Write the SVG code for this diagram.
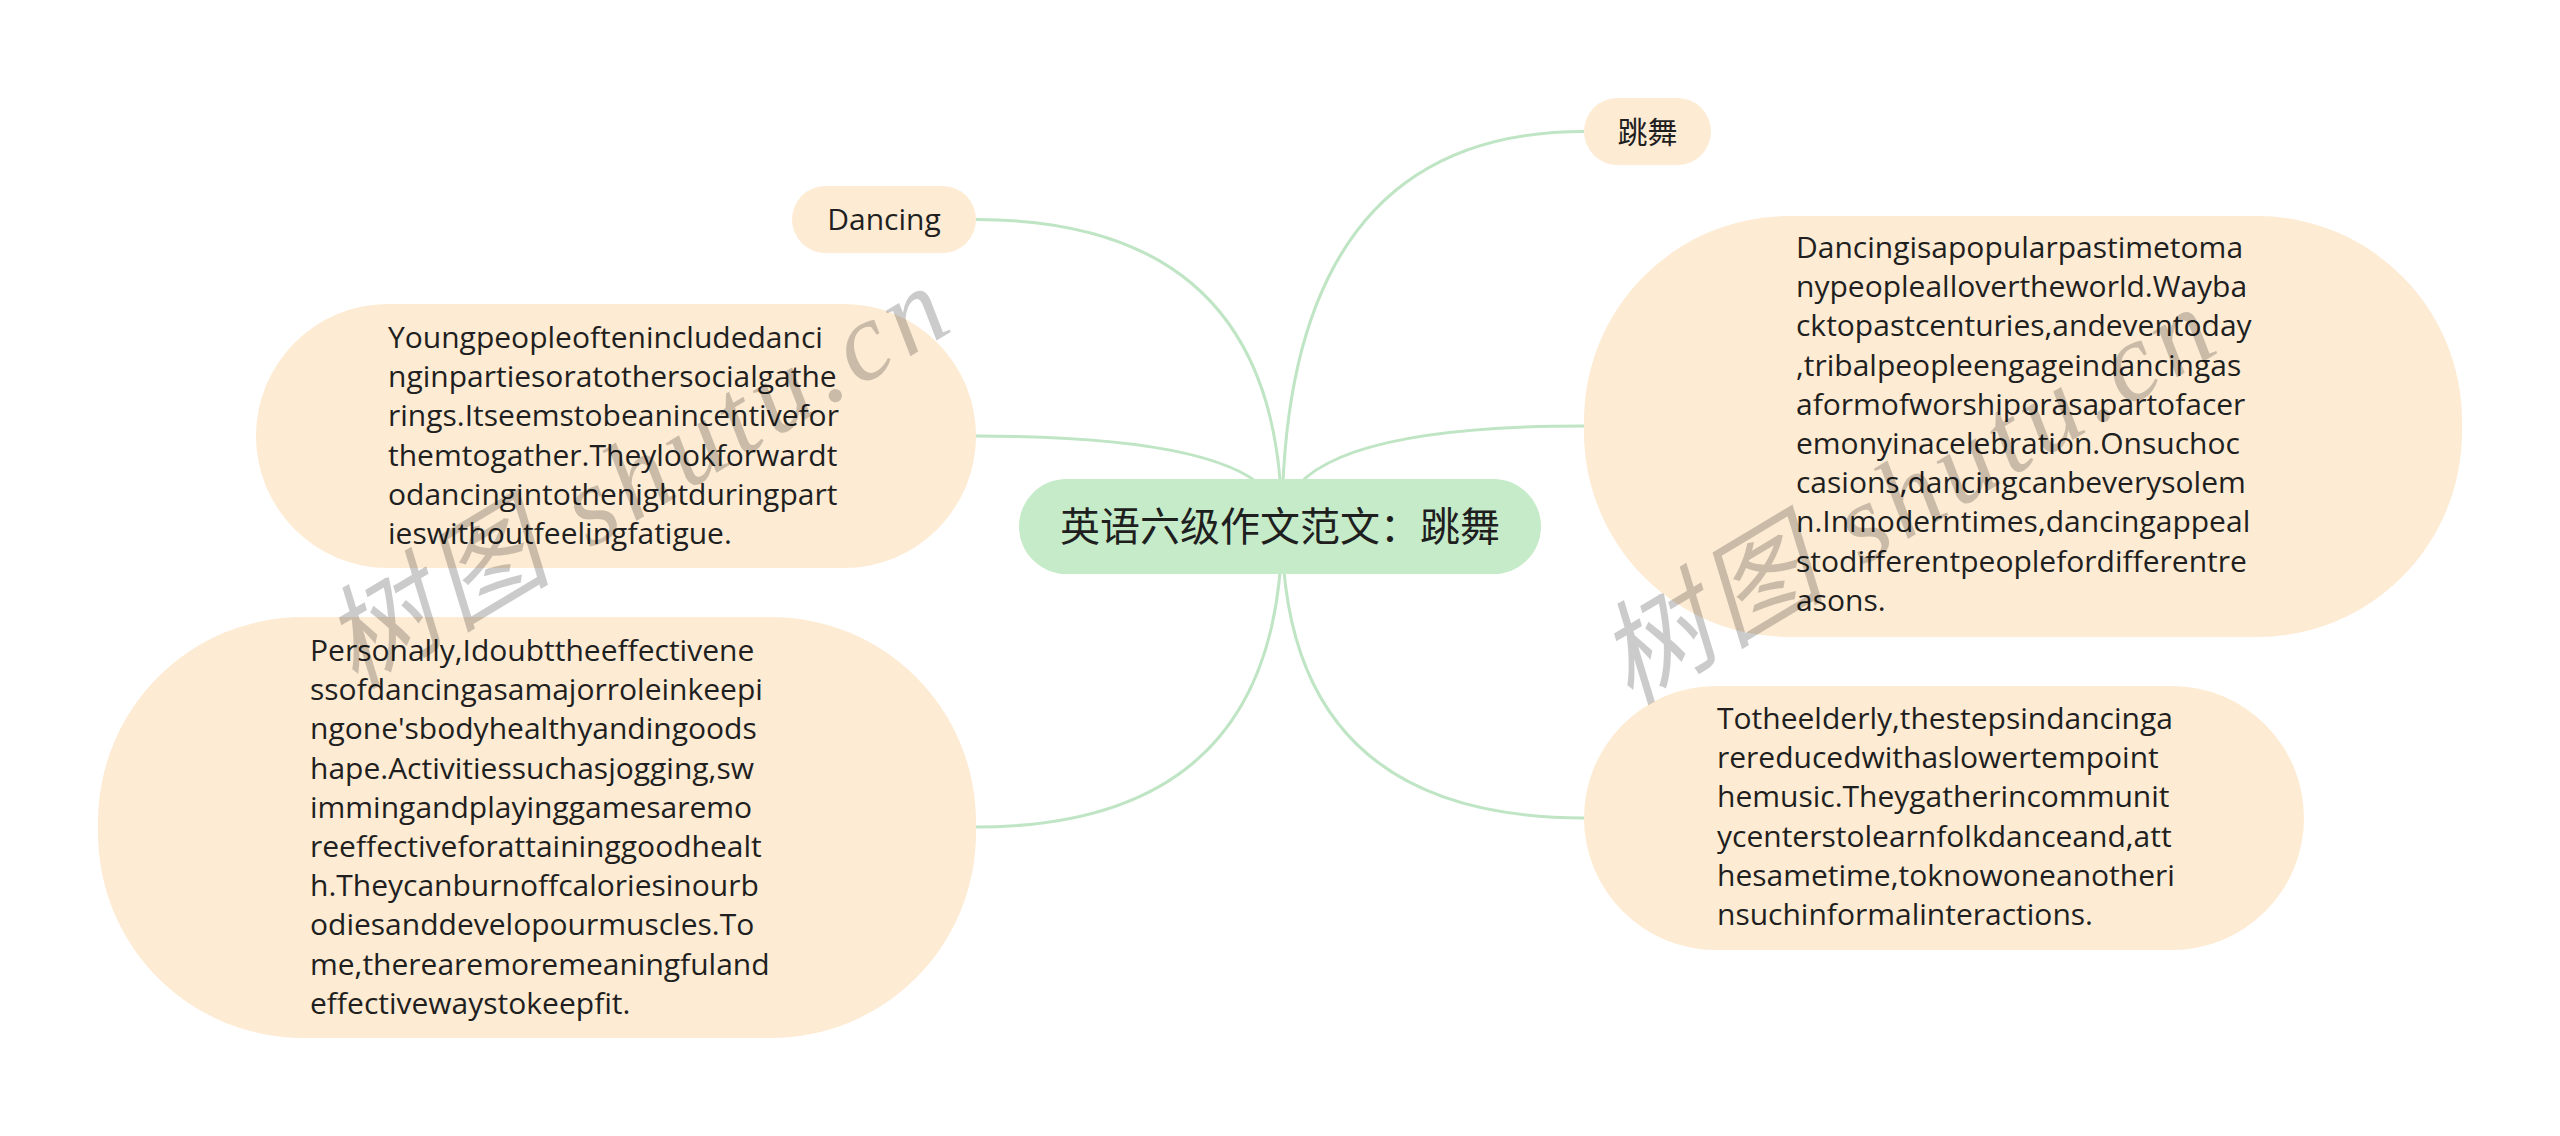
<svg xmlns="http://www.w3.org/2000/svg" width="2560" height="1136" viewBox="0 0 2560 1136">
  <style>
    .leaf { fill: #fdebd3; }
    .root { fill: #c5ebc9; }
    .edge { fill: none; stroke: #bfe5c5; stroke-width: 3; }
    .para { font-family: "Open Sans", "Noto Sans", "Liberation Sans", sans-serif; font-size: 30px; fill: #1f1f1f; }
    .lbl { font-family: "Open Sans", "Noto Sans", "Noto Sans CJK SC", sans-serif; font-size: 30px; fill: #1f1f1f; }
    .cjk { font-family: "Noto Sans CJK SC", "Noto Sans", sans-serif; fill: #1f1f1f; }
    .wm { font-family: "Liberation Serif", "Noto Sans CJK SC", serif; font-size: 112px; font-style: italic; fill: #000; opacity: 0.2; }
  </style>
  <rect width="2560" height="1136" fill="#ffffff"/>

  <g id="connectors">
    <path class="edge" d="M 1282 526 Q 1282 131.5 1584 131.5"/>
    <path class="edge" d="M 1282 526 Q 1282 219.5 976 219.5"/>
    <path class="edge" d="M 1282 526 Q 1282 436 976 436"/>
    <path class="edge" d="M 1282 526 Q 1282 827 976 827"/>
    <path class="edge" d="M 1282 526 Q 1282 426 1584 426"/>
    <path class="edge" d="M 1282 526 Q 1282 818 1584 818"/>
  </g>

  <g id="node-tiaowu">
    <rect class="leaf" x="1584" y="98" width="127" height="67" rx="33.5"/>
    <text class="cjk" x="1647.5" y="143" font-size="30" text-anchor="middle">跳舞</text>
  </g>

  <g id="node-dancing">
    <rect class="leaf" x="792" y="186" width="184" height="67" rx="33.5"/>
    <text class="lbl" x="884" y="230" text-anchor="middle">Dancing</text>
  </g>

  <g id="node-young">
    <rect class="leaf" x="256" y="304" width="720" height="264" rx="132"/>
    <text class="para" x="388" y="348">
      <tspan x="388" dy="0">Youngpeopleoftenincludedanci</tspan>
      <tspan x="388" dy="39.2">nginpartiesoratothersocialgathe</tspan>
      <tspan x="388" dy="39.2">rings.Itseemstobeanincentivefor</tspan>
      <tspan x="388" dy="39.2">themtogather.Theylookforwardt</tspan>
      <tspan x="388" dy="39.2">odancingintothenightduringpart</tspan>
      <tspan x="388" dy="39.2">ieswithoutfeelingfatigue.</tspan>
    </text>
  </g>

  <g id="node-personally">
    <rect class="leaf" x="98" y="617" width="878" height="421" rx="205"/>
    <text class="para" x="310" y="661">
      <tspan x="310" dy="0">Personally,Idoubttheeffectivene</tspan>
      <tspan x="310" dy="39.2">ssofdancingasamajorroleinkeepi</tspan>
      <tspan x="310" dy="39.2">ngone'sbodyhealthyandingoods</tspan>
      <tspan x="310" dy="39.2">hape.Activitiessuchasjogging,sw</tspan>
      <tspan x="310" dy="39.2">immingandplayinggamesaremo</tspan>
      <tspan x="310" dy="39.2">reeffectiveforattaininggoodhealt</tspan>
      <tspan x="310" dy="39.2">h.Theycanburnoffcaloriesinourb</tspan>
      <tspan x="310" dy="39.2">odiesanddevelopourmuscles.To</tspan>
      <tspan x="310" dy="39.2">me,therearemoremeaningfuland</tspan>
      <tspan x="310" dy="39.2">effectivewaystokeepfit.</tspan>
    </text>
  </g>

  <g id="node-dancing-popular">
    <rect class="leaf" x="1584" y="216" width="878" height="421" rx="205"/>
    <text class="para" x="1796" y="258">
      <tspan x="1796" dy="0">Dancingisapopularpastimetoma</tspan>
      <tspan x="1796" dy="39.2">nypeopleallovertheworld.Wayba</tspan>
      <tspan x="1796" dy="39.2">cktopastcenturies,andeventoday</tspan>
      <tspan x="1796" dy="39.2">,tribalpeopleengageindancingas</tspan>
      <tspan x="1796" dy="39.2">aformofworshiporasapartofacer</tspan>
      <tspan x="1796" dy="39.2">emonyinacelebration.Onsuchoc</tspan>
      <tspan x="1796" dy="39.2">casions,dancingcanbeverysolem</tspan>
      <tspan x="1796" dy="39.2">n.Inmoderntimes,dancingappeal</tspan>
      <tspan x="1796" dy="39.2">stodifferentpeoplefordifferentre</tspan>
      <tspan x="1796" dy="39.2">asons.</tspan>
    </text>
  </g>

  <g id="node-elderly">
    <rect class="leaf" x="1584" y="686" width="720" height="264" rx="132"/>
    <text class="para" x="1717" y="729">
      <tspan x="1717" dy="0">Totheelderly,thestepsindancinga</tspan>
      <tspan x="1717" dy="39.2">rereducedwithaslowertempoint</tspan>
      <tspan x="1717" dy="39.2">hemusic.Theygatherincommunit</tspan>
      <tspan x="1717" dy="39.2">ycenterstolearnfolkdanceand,att</tspan>
      <tspan x="1717" dy="39.2">hesametime,toknowoneanotheri</tspan>
      <tspan x="1717" dy="39.2">nsuchinformalinteractions.</tspan>
    </text>
  </g>

  <g id="node-root">
    <rect class="root" x="1019" y="479" width="522" height="95" rx="47.5"/>
    <text class="cjk" x="1280" y="541" font-size="40" text-anchor="middle">英语六级作文范文：跳舞</text>
  </g>

  <g id="watermarks">
    <text class="wm" x="355" y="690" transform="rotate(-31 355 690)" textLength="700" lengthAdjust="spacing">树图 shutu.cn</text>
    <text class="wm" x="1630" y="706" transform="rotate(-31 1630 706)" textLength="690" lengthAdjust="spacing">树图 shutu.cn</text>
  </g>
</svg>
